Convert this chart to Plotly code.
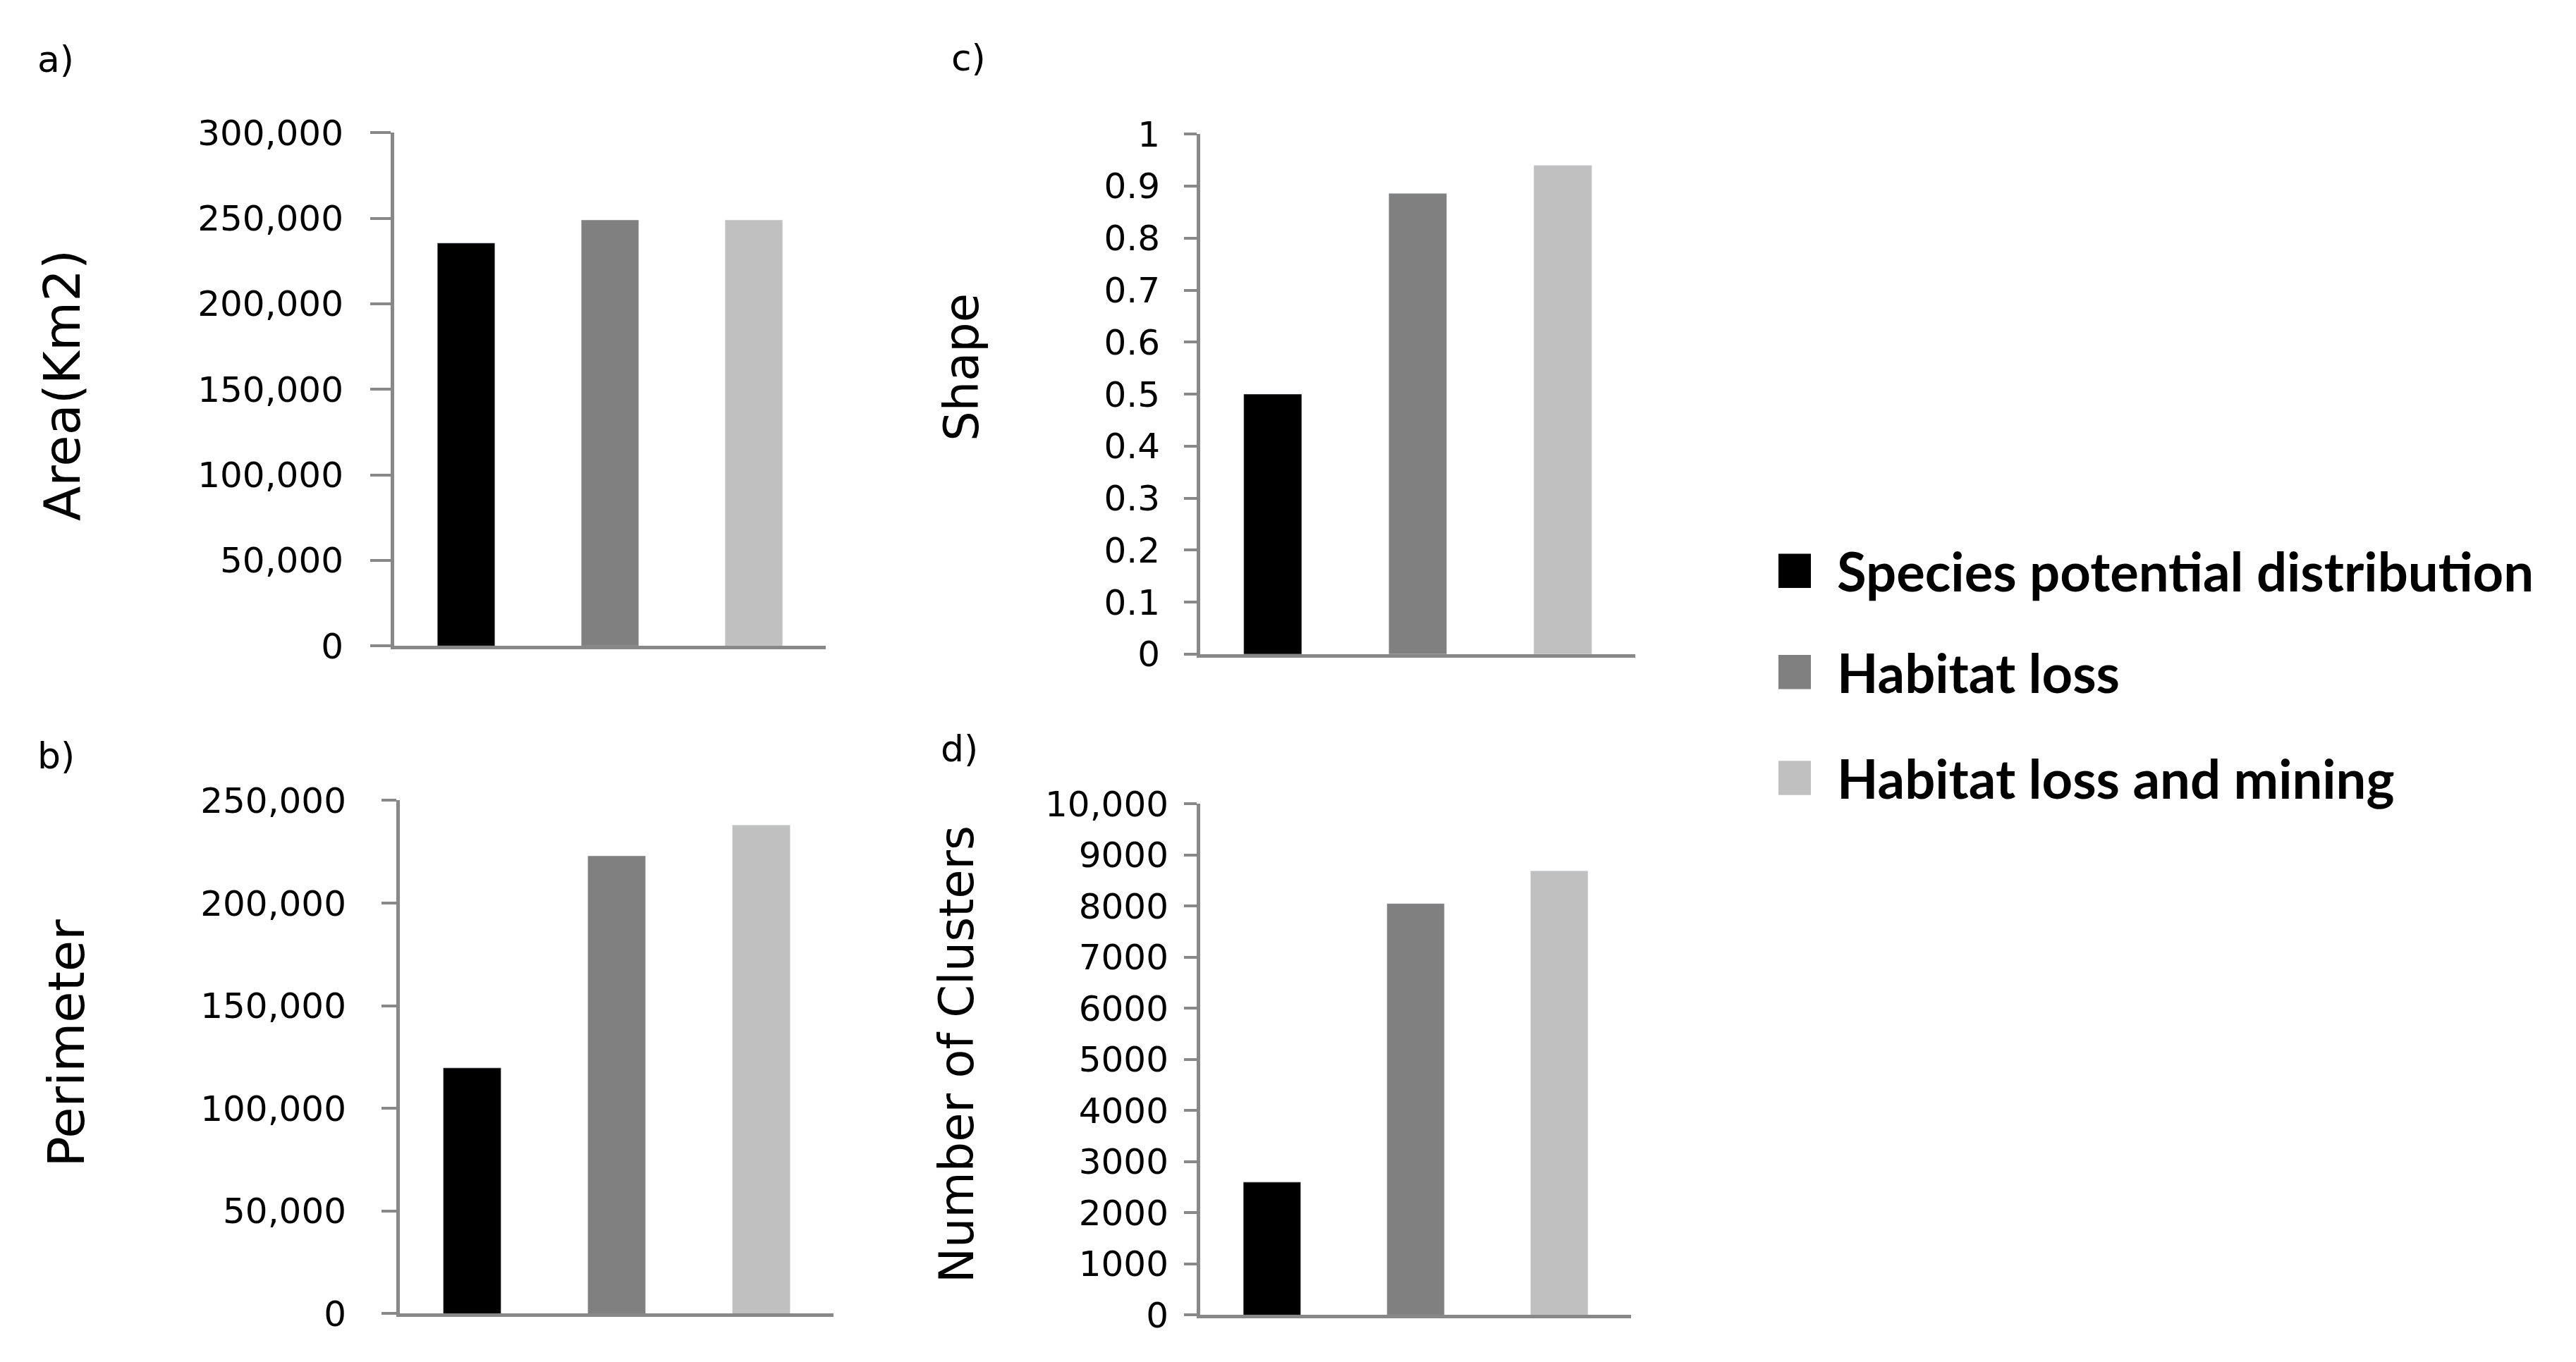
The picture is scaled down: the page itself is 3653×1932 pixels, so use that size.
import plotly.graph_objects as go

W, H = 3653, 1932

series = ["Species potential distribution", "Habitat loss", "Habitat loss and mining"]
colors = ["#000000", "#808080", "#c0c0c0"]

area = [235500, 249000, 249000]
perimeter = [119700, 223000, 238000]
shape = [0.50, 0.886, 0.94]
clusters = [2600, 8050, 8690]

area_ticks = [0, 50000, 100000, 150000, 200000, 250000, 300000]
area_labels = ["0", "50,000", "100,000", "150,000", "200,000", "250,000", "300,000"]
perim_ticks = [0, 50000, 100000, 150000, 200000, 250000]
perim_labels = ["0", "50,000", "100,000", "150,000", "200,000", "250,000"]
shape_ticks = [0, 0.1, 0.2, 0.3, 0.4, 0.5, 0.6, 0.7, 0.8, 0.9, 1]
shape_labels = ["0", "0.1", "0.2", "0.3", "0.4", "0.5", "0.6", "0.7", "0.8", "0.9", "1"]
clus_ticks = [0, 1000, 2000, 3000, 4000, 5000, 6000, 7000, 8000, 9000, 10000]
clus_labels = ["0", "1000", "2000", "3000", "4000", "5000", "6000", "7000", "8000", "9000", "10,000"]


def px(x):
    return x / W


def py(y):
    return 1 - y / H


# values, ticks, labels, y max, axis title, letter
panels = [
    (area, area_ticks, area_labels, 300000, "Area(Km2)", "a)"),
    (shape, shape_ticks, shape_labels, 1, "Shape", "c)"),
    (perimeter, perim_ticks, perim_labels, 250000, "Perimeter", "b)"),
    (clusters, clus_ticks, clus_labels, 10000, "Number of Clusters", "d)"),
]

# layout per panel, in page pixels: plot box, title centre, letter centre, tick length, label gap
boxes = [(551, 1163, 156, 907), (1694, 2311, 158, 919), (559, 1174, 1133, 1884), (1694, 2305, 1138, 1886)]
title_pos = [(80, 526), (1356, 499), (86, 1488), (1349, 1505)]
title_size = [72, 67, 72, 67]
letter_pos = [(71, 48), (1365, 46), (71, 1068), (1352, 1057)]
tick_len = [29, 18, 21, 18]
label_gap = [28, 24, 40, 12]

axis_grey = "#888888"
tick_font = dict(family="DejaVu Sans", size=50, color="#000000")

fig = go.Figure()
annotations = []
shapes = []

for i, (vals, tv, tt, ymax, title, letter) in enumerate(panels):
    n = "" if i == 0 else str(i + 1)
    x0, x1, y0, y1 = boxes[i]
    for s, name in enumerate(series):
        fig.add_trace(go.Bar(
            x=[name], y=[vals[s]], name=name, marker_color=colors[s],
            width=0.4, showlegend=False,
            xaxis="x" + n, yaxis="y" + n,
        ))
    fig.update_layout({
        "xaxis" + n: dict(
            domain=[px(x0), px(x1)], anchor="y" + n, range=[-0.5, 2.5],
            showline=True, linecolor=axis_grey, linewidth=5,
            showticklabels=False, ticks="", showgrid=False, zeroline=False,
            categoryorder="array", categoryarray=series,
        ),
        "yaxis" + n: dict(
            domain=[py(y1), py(y0)], anchor="x" + n, range=[0, ymax],
            tickvals=tv, ticktext=tt, tickfont=tick_font,
            showline=True, linecolor=axis_grey, linewidth=5,
            ticks="outside", ticklen=tick_len[i], tickwidth=4, tickcolor=axis_grey,
            ticklabelstandoff=label_gap[i], showgrid=False, zeroline=False,
        ),
    })
    annotations.append(dict(
        text=title, x=px(title_pos[i][0]), y=py(title_pos[i][1]), xref="paper", yref="paper",
        textangle=-90, showarrow=False, xanchor="center", yanchor="middle",
        font=dict(family="DejaVu Sans", size=title_size[i], color="#000000"),
    ))
    annotations.append(dict(
        text=letter, x=px(letter_pos[i][0]), y=py(letter_pos[i][1]), xref="paper", yref="paper",
        showarrow=False, xanchor="center", yanchor="middle",
        font=dict(family="DejaVu Sans", size=52, color="#000000"),
    ))

# legend drawn by hand so the swatches can be as large as in the original
legend_rows = [797, 945, 1100]
for s, name in enumerate(series):
    yc = legend_rows[s]
    shapes.append(dict(
        type="rect", xref="paper", yref="paper",
        x0=px(2514), x1=px(2560), y0=py(yc + 25), y1=py(yc - 25),
        fillcolor=colors[s], line=dict(width=0),
    ))
    annotations.append(dict(
        text="<b>" + name + "</b>", x=px(2595), y=py(yc), xref="paper", yref="paper",
        showarrow=False, xanchor="left", yanchor="middle",
        font=dict(family="Lato", size=76, color="#000000"),
    ))

fig.update_layout(
    width=W, height=H,
    margin=dict(l=0, r=0, t=0, b=0),
    paper_bgcolor="white", plot_bgcolor="white",
    barmode="overlay", showlegend=False,
    annotations=annotations, shapes=shapes,
)

fig.write_html("out.html")
